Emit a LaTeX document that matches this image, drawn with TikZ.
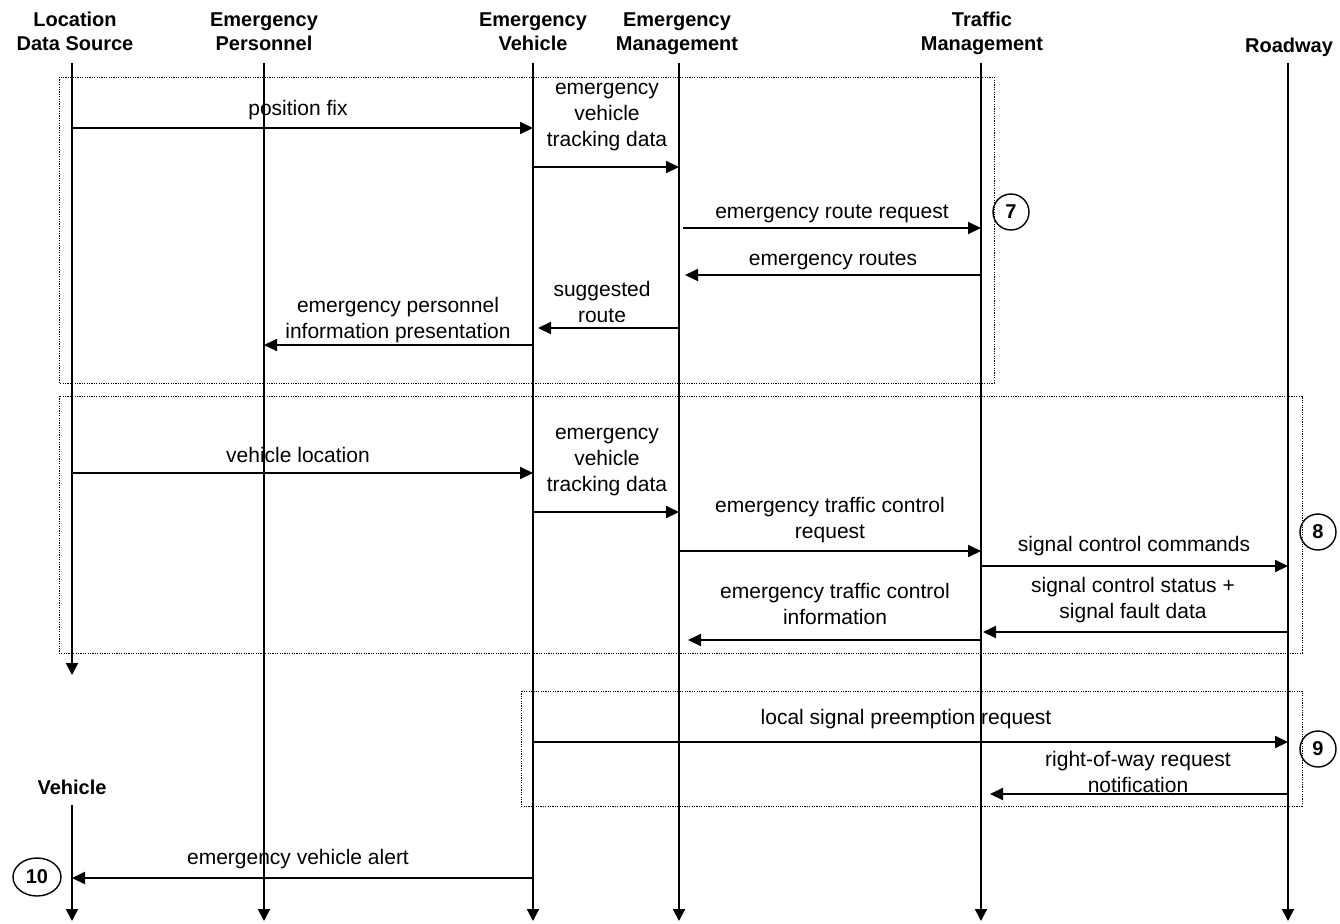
\documentclass[tikz,border=0pt]{standalone}
\usepackage{fontspec}
\setmainfont{Liberation Sans}
\usetikzlibrary{arrows.meta,shapes.geometric}

\tikzset{
  msg/.style={line width=1pt,-{Triangle[length=6.5pt,width=6pt]}},
  lifeline/.style={line width=1pt,-{Triangle[length=6pt,width=6pt]}},
  actor/.style={font=\bfseries,align=center,inner sep=0pt,anchor=north},
  lbl/.style={align=center,inner sep=0pt},
  phase/.style={line width=0.5pt,dash pattern=on 0.6pt off 0.6pt},
  stepno/.style={draw,ellipse,line width=0.7pt,inner sep=0pt,minimum width=18pt,minimum height=18pt,font=\bfseries}
}

\begin{document}
\begin{tikzpicture}[x=0.5pt,y=-0.5pt,font=\fontsize{10.5}{13}\selectfont]
  \useasboundingbox (0,0) rectangle (1340,923);
  % dotted phase frames
  \draw[phase] (59,77) rectangle (994,383);
  \draw[phase] (59,396) rectangle (1302,653);
  \draw[phase] (521,691) rectangle (1302,806);
  % actors and lifelines
  \foreach \n/\x/\y/\t in {lds/75/12/{Location\\Data Source}, ep/264/12/{Emergency\\Personnel},
      ev/533/12/{Emergency\\Vehicle}, em/677/12/{Emergency\\Management},
      tm/982/12/{Traffic\\Management}, rw/1289/38/{Roadway}}
    \node[actor] (\n-head) at (\x,\y) {\t};
  \foreach \n/\x/\e in {lds/72/675, ep/264/921, ev/533/921, em/679/921, tm/981/921, rw/1288/921}{
    \coordinate (\n) at (\x,63);
    \coordinate (\n-end) at (\x,\e);
    \draw[lifeline] (\n) -- (\n-end);
  }
  \node[actor] (veh-head) at (72,780) {Vehicle};
  \coordinate (veh) at (72,805);
  \coordinate (veh-end) at (72,921);
  \draw[lifeline] (veh) -- (veh-end);
  % messages: from/to/row/start gap/end gap
  \foreach \a/\b/\y/\s/\e in {lds/ev/128/0pt/0pt, ev/em/167/0pt/0pt, em/tm/228/2pt/0pt,
      tm/em/275/0pt/3pt, em/ev/328/0pt/2.5pt, ev/ep/345/0pt/0pt,
      lds/ev/473/0pt/0pt, ev/em/512/0pt/0pt, em/tm/551/0pt/0pt, tm/rw/566/0pt/0pt,
      rw/tm/632/0pt/1pt, tm/em/640/0pt/4.5pt,
      ev/rw/742/0pt/0pt, rw/tm/794/0pt/4.5pt, ev/veh/878/0pt/0pt}
    \draw[msg,shorten <=\s,shorten >=\e] (\a |- 0,\y) -- (\b |- 0,\y);
  % message labels
  \node[lbl] (posfix) at (298,110) {position fix};
  \node[lbl] (track1) at (607,117) {emergency\\vehicle\\tracking data};
  \node[lbl] (routereq) at (832,214) {emergency route request};
  \node[lbl] (routes) at (833,261) {emergency routes};
  \node[lbl] (suggest) at (602,302) {suggested\\route};
  \node[lbl] (epinfo) at (398,320) {emergency personnel\\information presentation};
  \node[lbl] (vloc) at (298,455) {vehicle location};
  \node[lbl] (track2) at (607,462) {emergency\\vehicle\\tracking data};
  \node[lbl] (tcreq) at (830,520) {emergency traffic control\\request};
  \node[lbl] (sigcmd) at (1134,546) {signal control commands};
  \node[lbl] (sigstat) at (1133,600) {signal control status +\\signal fault data};
  \node[lbl] (tcinfo) at (835,604) {emergency traffic control\\information};
  \node[lbl] (preempt) at (906,719) {local signal preemption request};
  \node[lbl] (rowreq) at (1138,772) {right-of-way request\\notification};
  \node[lbl] (alert) at (298,859) {emergency vehicle alert};
  % step numbers
  \node[stepno] (s7) at (1011,212) {7};
  \node[stepno] (s8) at (1318,532) {8};
  \node[stepno] (s9) at (1318,749) {9};
  \node[stepno,minimum width=24pt,minimum height=19pt] (s10) at (37,877) {10};
\end{tikzpicture}
\end{document}
